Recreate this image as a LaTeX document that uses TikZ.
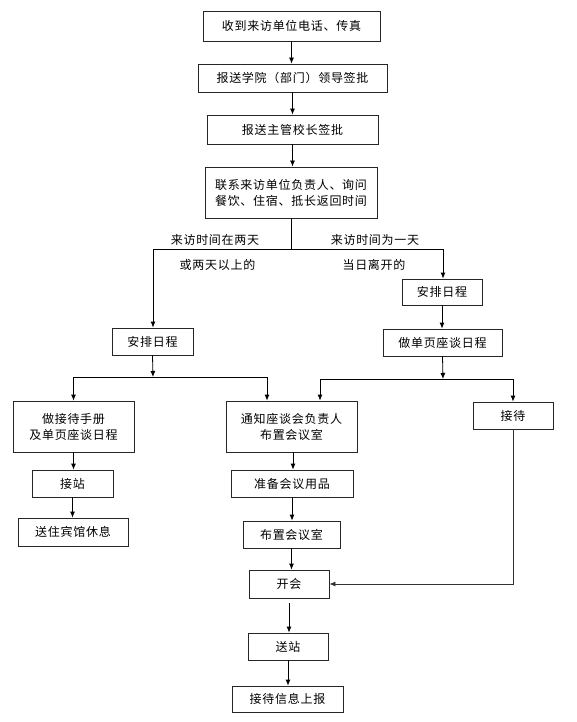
\documentclass[tikz,border=0pt]{standalone}
\usepackage{fontspec}
\newfontfamily\cjk[LetterSpace=6]{Noto Sans CJK SC}
\usetikzlibrary{arrows.meta,calc}
\tikzset{
  box/.style={draw=black!85, line width=0.8pt, rectangle, inner sep=0pt, align=center,
    font=\cjk\fontsize{12}{16}\selectfont, text=black},
  lbl/.style={inner sep=0pt, font=\cjk\fontsize{12}{16}\selectfont, text=black},
  arr/.style={draw=black, line width=0.8pt, -{Latex[length=6pt,width=5pt]}},
  ln/.style={draw=black, line width=0.8pt}
}
\begin{document}
\begin{tikzpicture}[x=1pt,y=-1pt]
\useasboundingbox (0,0) rectangle (576,722);
% nodes
\node[box, minimum width=177pt, minimum height=30pt] (n1) at (291.5,26) {收到来访单位电话、传真};
\node[box, minimum width=189pt, minimum height=28pt] (n2) at (292.5,78) {报送学院（部门）领导签批};
\node[box, minimum width=171pt, minimum height=29pt] (n3) at (292.5,129.5) {报送主管校长签批};
\node[box, minimum width=172pt, minimum height=51pt] (n4) at (291,192.5) {联系来访单位负责人、询问\\餐饮、住宿、抵长返回时间};
\node[box, minimum width=80pt, minimum height=26pt] (r1) at (442,292) {安排日程};
\node[box, minimum width=81pt, minimum height=27pt] (l1) at (152.5,341.5) {安排日程};
\node[box, minimum width=119pt, minimum height=27pt] (r2) at (442.5,342.5) {做单页座谈日程};
\node[box, minimum width=121pt, minimum height=51pt] (a1) at (73.5,426.5) {做接待手册\\及单页座谈日程};
\node[box, minimum width=131pt, minimum height=51pt] (b1) at (291.5,426.5) {通知座谈会负责人\\布置会议室};
\node[box, minimum width=80pt, minimum height=27pt] (c1) at (513,415.5) {接待};
\node[box, minimum width=81pt, minimum height=27pt] (a2) at (72.5,483.5) {接站};
\node[box, minimum width=110pt, minimum height=28pt] (a3) at (73,532) {送住宾馆休息};
\node[box, minimum width=122pt, minimum height=27pt] (b2) at (292,483.5) {准备会议用品};
\node[box, minimum width=97pt, minimum height=27pt] (b3) at (291.5,534.5) {布置会议室};
\node[box, minimum width=80pt, minimum height=28pt] (b4) at (289,584) {开会};
\node[box, minimum width=80pt, minimum height=27pt] (b5) at (288,646.5) {送站};
\node[box, minimum width=111pt, minimum height=26pt] (b6) at (287.5,699) {接待信息上报};
% labels
\node[lbl] (t1) at (215,240) {来访时间在两天};
\node[lbl] (t2) at (217.5,265) {或两天以上的};
\node[lbl] (t3) at (375,240) {来访时间为一天};
\node[lbl] (t4) at (374,265) {当日离开的};
% junctions
\coordinate (sL) at (153,249);
\coordinate (sR) at (443,249);
\coordinate (jL) at (153,377);
\coordinate (jR) at (443,379);
% connectors
\draw[arr] (n1.south) -- (n1.south |- n2.north);
\draw[arr] (n2.south) -- (n2.south |- n3.north);
\draw[arr] (n3.south) -- (n3.south |- n4.north);
\draw[arr] (n4.south) |- (sL) -- (sL |- l1.north);
\draw[arr] (n4.south) |- (sR) -- (sR |- r1.north);
\draw[arr] (r1.south) -- (r1.south |- r2.north);
\draw[arr] (l1.south) -- (jL);
\draw[arr] (jL) -| (a1.north);
\draw[arr] (jL) -| ([xshift=-24.5pt]b1.north);
\draw[arr] (r2.south) -- (jR);
\draw[arr] (jR) -| ([xshift=28.5pt]b1.north);
\draw[arr] (jR) -| (c1.north);
\draw[arr] (a1.south) -- (a1.south |- a2.north);
\draw[arr] (a2.south) -- (a2.south |- a3.north);
\draw[arr] ([xshift=1.5pt]b1.south) -- ([xshift=1.5pt]b1.south |- b2.north);
\draw[arr] (b2.south) -- (b2.south |- b3.north);
\draw[arr] (b3.south) -- (b3.south |- b4.north);
\draw[arr, shorten <=5pt] (b4.south) -- (b4.south |- b5.north);
\draw[arr] (b5.south) -- (b5.south |- b6.north);
\draw[arr, draw=black!80] (c1.south) |- (b4.east);
\end{tikzpicture}
\end{document}
